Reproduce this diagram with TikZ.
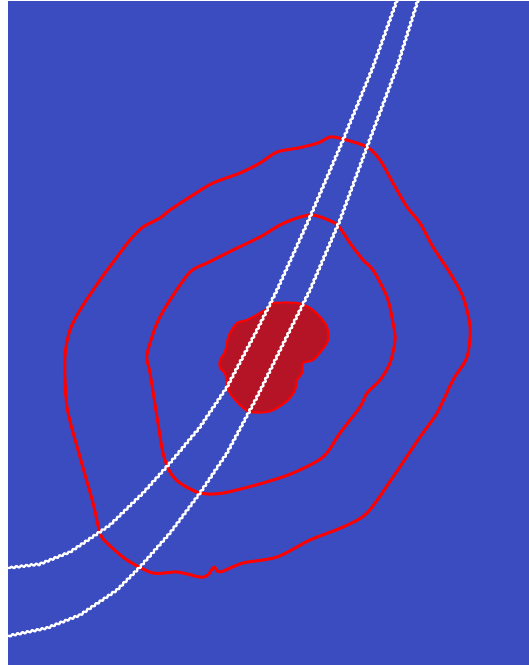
\documentclass[tikz,border=0pt]{standalone}
\usetikzlibrary{decorations.pathmorphing}
\definecolor{cwblue}{RGB}{59,76,192}
\definecolor{cwred}{RGB}{180,20,38}
\begin{document}
\begin{tikzpicture}[x=1pt,y=-1pt,
  contour/.style={draw=red,line width=3pt,line join=round},
  track/.style={draw=white,line width=2.3pt,line join=round,
    decorate,decoration={zigzag,segment length=5pt,amplitude=1pt}}]
\useasboundingbox (0,0) rectangle (529,665);
\fill[white] (0,0) rectangle (529,665);
\fill[cwblue] (8,1) rectangle (529,665);
% core blob
\filldraw[fill=cwred,draw=red,line width=2.2pt]
 plot[smooth cycle,tension=0.45] coordinates {
 (273,303) (297,303) (310,308) (320,317) (327,327) (328,340) (322,350)
 (313,360) (303,363) (302,373) (297,380) (295,390) (288,400) (277,408)
 (267,412) (250,412) (240,405) (230,393) (227,383) (225,373) (220,368)
 (220,360) (225,352) (227,342) (230,333) (237,323) (247,320) (260,313) (270,307)};
% inner contour
\draw[contour] plot[smooth cycle,tension=0.5] coordinates {
 (313,215) (333,222) (340,228) (350,243) (363,260) (373,270) (387,297)
 (393,323) (395,340) (390,363) (380,380) (367,393) (360,407) (340,433)
 (323,457) (293,473) (263,483) (223,493) (200,493) (180,483) (170,472)
 (163,453) (157,417) (150,373) (147,360) (148,350) (157,323) (170,300)
 (190,272) (207,263) (233,250) (260,237) (280,225) (297,218)};
% outer contour
\draw[contour] plot[smooth cycle,tension=0.5] coordinates {
 (330,137) (343,139) (367,147) (380,160) (393,183) (407,207) (420,223)
 (433,247) (450,273) (463,297) (470,327) (467,357) (453,380) (437,413)
 (420,437) (393,477) (367,513) (343,527) (310,540) (277,557) (243,563)
 (220,572) (214,567) (208,575) (200,577) (177,572) (153,573) (127,560)
 (107,543) (100,533) (93,503) (80,457) (67,407) (65,357) (70,330)
 (80,310) (100,280) (117,257) (130,240) (143,227) (160,218) (170,210)
 (193,195) (213,183) (240,173) (260,163) (277,152) (298,148) (318,143)};
% tracks
\draw[track] (397,0) -- (373,67) -- (343,140) -- (310,217) -- (277,290)
 -- (257,330) -- (227,387) -- (200,427) -- (170,463) -- (143,493)
 -- (110,525) -- (88,540) -- (70,552) -- (40,564) -- (8,568);
\draw[track] (418,0) -- (397,67) -- (367,147) -- (340,220) -- (310,290)
 -- (290,330) -- (257,397) -- (227,453) -- (200,493) -- (170,533)
 -- (140,567) -- (117,590) -- (80,615) -- (47,628) -- (8,636);
\end{tikzpicture}
\end{document}
